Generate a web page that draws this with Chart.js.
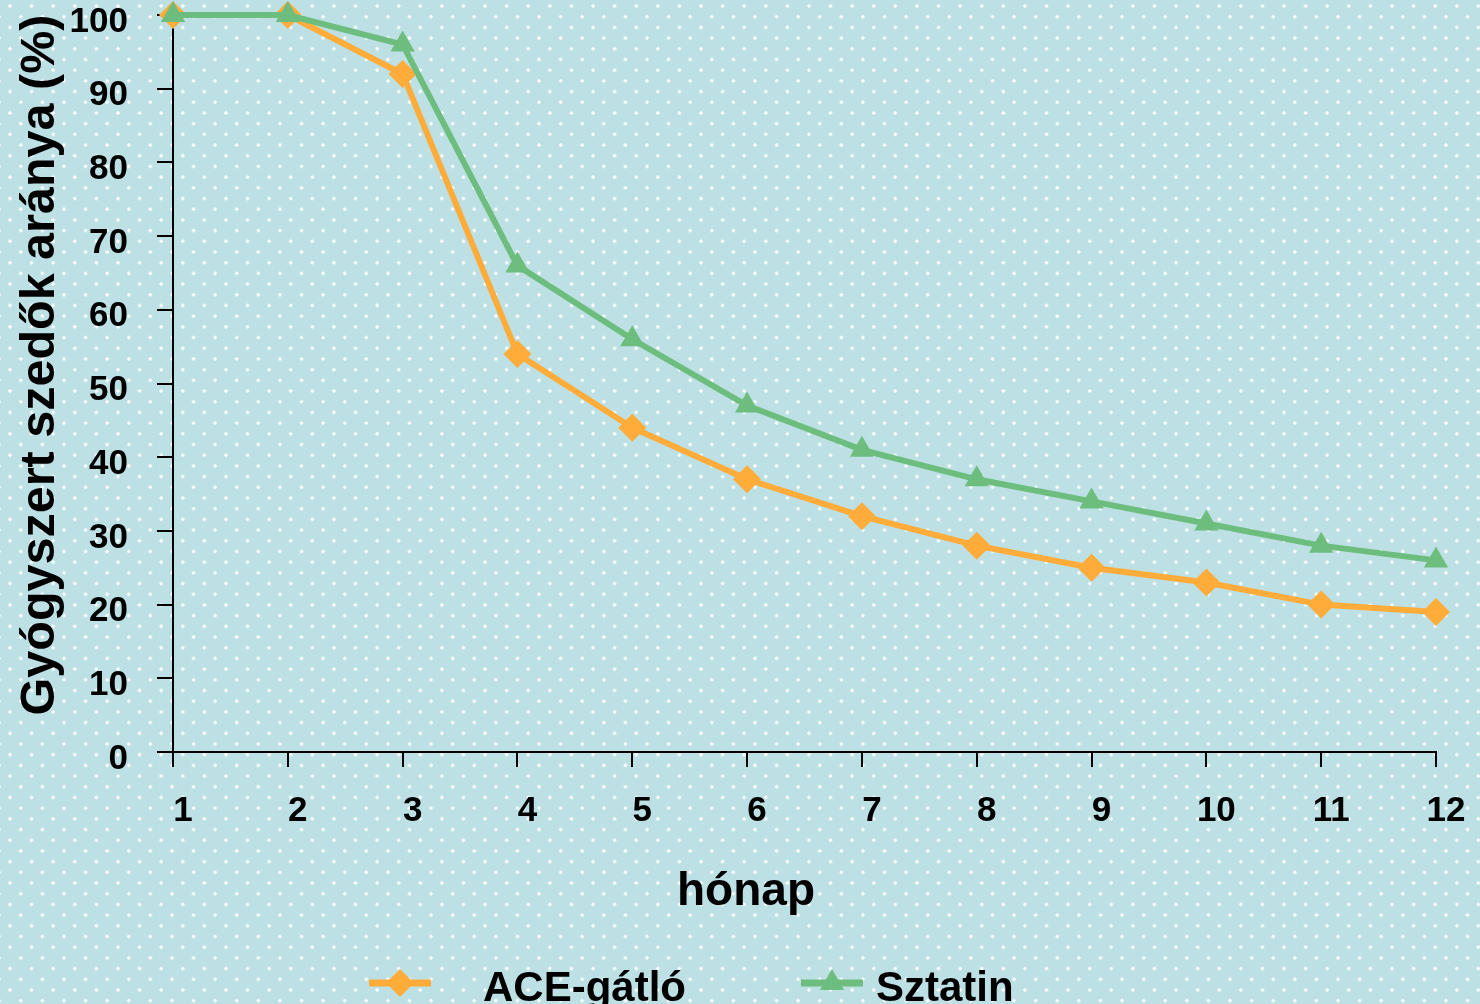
<!DOCTYPE html>
<html>
<head>
<meta charset="utf-8">
<title>Gyógyszert szedők aránya</title>
<script src="https://cdn.jsdelivr.net/npm/chart.js@4.4.1/dist/chart.umd.min.js"></script>
<style>
  html, body { margin: 0; padding: 0; }
  body {
    width: 1480px;
    height: 1004px;
    overflow: hidden;
    background-color: #bce0e4;
    background-image:
      radial-gradient(circle, rgba(255,255,255,1) 1.3px, rgba(255,255,255,0) 2px),
      radial-gradient(circle, rgba(255,255,255,1) 1.3px, rgba(255,255,255,0) 2px);
    background-size: 21.6px 21.4px;
    background-position: -0.8px -4.7px, 10px 6px;
  }
  #wrap { position: absolute; left: 0; top: 0; width: 1480px; height: 1004px; }
</style>
</head>
<body>
<div id="wrap"><canvas id="retentionChart" width="1480" height="1004"></canvas></div>
<script>
// data
const months = ['1', '2', '3', '4', '5', '6', '7', '8', '9', '10', '11', '12'];
const aceValues = [100, 100, 92, 54, 44, 37, 32, 28, 25, 23, 20, 19];
const sztatinValues = [100, 100, 96, 66, 56, 47, 41, 37, 34, 31, 28, 26];
const seriesNames = ['ACE-gátló', 'Sztatin'];
const yMin = 0;
const yMax = 100;
const yStep = 10;
const xTitle = 'hónap';
const yTitle = 'Gyógyszert szedők aránya (%)';

const FONT = '"Liberation Sans", Arial, Helvetica, sans-serif';
const ORANGE = '#ffac3a';
const GREEN = '#6dbe7e';

// draws the marker like chart.js does, used for the legend
function marker(ctx, style, x, y, r, color) {
    ctx.fillStyle = color;
    ctx.beginPath();
    if (style === 'rectRot') {
        ctx.moveTo(x, y - r);
        ctx.lineTo(x + r, y);
        ctx.lineTo(x, y + r);
        ctx.lineTo(x - r, y);
    } else {
        const h = r * 1.5;
        const w = r * Math.sqrt(3) / 2;
        ctx.moveTo(x, y - r);
        ctx.lineTo(x + w, y + h - r);
        ctx.lineTo(x - w, y + h - r);
    }
    ctx.closePath();
    ctx.fill();
}

// axis titles and legend
const decorPlugin = {
    id: 'decor',
    afterDraw(chart) {
        const ctx = chart.ctx;
        ctx.save();
        ctx.fillStyle = '#000';

        // y title, rotated
        ctx.font = 'bold 48.5px ' + FONT;
        ctx.textAlign = 'center';
        ctx.textBaseline = 'alphabetic';
        ctx.translate(54, 365);
        ctx.rotate(-Math.PI / 2);
        ctx.fillText(yTitle, 0, 0);
        ctx.setTransform(1, 0, 0, 1, 0, 0);

        // x title
        ctx.font = 'bold 46px ' + FONT;
        ctx.textAlign = 'center';
        ctx.fillText(xTitle, 746, 905);

        // legend
        const items = [
            { x: 369, text: 483 },
            { x: 801, text: 876 }
        ];
        ctx.font = 'bold 42px ' + FONT;
        ctx.textAlign = 'left';
        chart.data.datasets.forEach((ds, i) => {
            const it = items[i];
            ctx.strokeStyle = ds.borderColor;
            ctx.lineWidth = 7;
            ctx.beginPath();
            ctx.moveTo(it.x, 983);
            ctx.lineTo(it.x + 62, 983);
            ctx.stroke();
            marker(ctx, ds.pointStyle, it.x + 31, 983, ds.pointRadius, ds.backgroundColor);
            ctx.fillStyle = '#000';
            ctx.fillText(ds.label, it.text, 1001);
        });
        ctx.restore();
    }
};

const ctx = document.getElementById('retentionChart').getContext('2d');
const retentionChart = new Chart(ctx, {
    type: 'line',
    data: {
        labels: months,
        datasets: [
            {
                label: seriesNames[0],
                data: aceValues,
                borderColor: ORANGE,
                backgroundColor: ORANGE,
                borderWidth: 6,
                pointStyle: 'rectRot',
                pointRadius: 14,
                pointHoverRadius: 14,
                pointBorderWidth: 0,
                tension: 0,
                order: 1,
                clip: false
            },
            {
                label: seriesNames[1],
                data: sztatinValues,
                borderColor: GREEN,
                backgroundColor: GREEN,
                borderWidth: 6,
                pointStyle: 'triangle',
                pointRadius: 14,
                pointHoverRadius: 14,
                pointBorderWidth: 0,
                tension: 0,
                order: 0,
                clip: false
            }
        ]
    },
    options: {
        responsive: false,
        animation: false,
        layout: {
            padding: { top: 15, right: 44, bottom: 80, left: 0 }
        },
        plugins: {
            legend: { display: false },
            tooltip: { enabled: false }
        },
        scales: {
            x: {
                offset: false,
                afterFit: function (scale) {
                    scale.height = 172;
                    scale.paddingLeft = 0;
                    scale.paddingRight = 0;
                },
                grid: {
                    drawOnChartArea: false,
                    tickLength: 15,
                    color: '#000',
                    lineWidth: 2
                },
                border: { display: true, color: '#000', width: 2 },
                ticks: {
                    color: '#000',
                    font: { family: FONT, size: 35, weight: 'bold' },
                    padding: 23,
                    labelOffset: 10,
                    maxRotation: 0
                }
            },
            y: {
                min: yMin,
                max: yMax,
                afterFit: function (scale) {
                    scale.width = 173;
                    scale.paddingTop = 0;
                    scale.paddingBottom = 0;
                },
                grid: {
                    drawOnChartArea: false,
                    tickLength: 16,
                    color: '#000',
                    lineWidth: 2
                },
                border: { display: true, color: '#000', width: 2 },
                ticks: {
                    stepSize: yStep,
                    color: '#000',
                    font: { family: FONT, size: 35, weight: 'bold' },
                    padding: 29,
                    labelOffset: 7
                }
            }
        }
    },
    plugins: [decorPlugin]
});
</script>
</body>
</html>
